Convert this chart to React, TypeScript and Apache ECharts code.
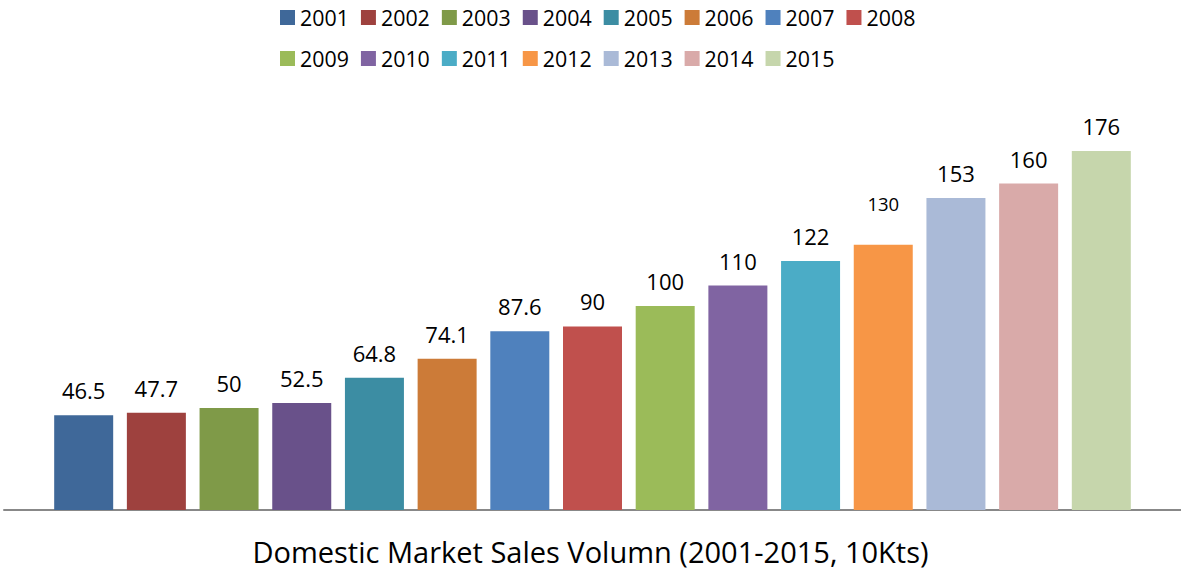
import React, { useEffect, useRef } from "react";
import * as echarts from "echarts";

const years = ["2001", "2002", "2003", "2004", "2005", "2006", "2007", "2008", "2009", "2010", "2011", "2012", "2013", "2014", "2015"];
const values = [46.5, 47.7, 50, 52.5, 64.8, 74.1, 87.6, 90, 100, 110, 122, 130, 153, 160, 176];
const colors = [
  "#3F6899", "#9E413E", "#7F9A48", "#69518A", "#3C8DA3", "#CC7B38",
  "#4F81BD", "#C0504D", "#9BBB59", "#8064A2", "#4BACC6", "#F79646",
  "#AABAD7", "#D9AAA9", "#C6D6AC",
];
const titleText = "Domestic Market Sales Volumn (2001-2015, 10Kts)";
const FONT = "'Open Sans', sans-serif";

export default function App() {
  const ref = useRef<HTMLDivElement>(null);
  useEffect(() => {
    document.body.style.margin = "0";
    const chart = echarts.init(ref.current!, null, { renderer: "svg" });
    const series = years.map((y, i) => ({
      name: y,
      type: "bar",
      data: [values[i]],
      barWidth: 59,
      barGap: "23.2%",
      itemStyle: { color: colors[i] },
      label: {
        show: true,
        position: "top",
        distance: 14,
        offset: y === "2012" ? [0, -18] : [0, 0],
        color: "#000",
        fontFamily: FONT,
        fontSize: y === "2012" ? 18.5 : 22,
      },
    }));
    const legendCommon = {
      left: 280,
      padding: 0,
      icon: "rect",
      itemWidth: 15,
      itemHeight: 15,
      itemGap: 12,
      selectedMode: false,
      textStyle: { fontFamily: FONT, fontSize: 21.4, color: "#000" },
    };
    chart.setOption({
      animation: false,
      title: {
        text: titleText,
        left: "center",
        bottom: -1,
        textStyle: { fontFamily: FONT, fontSize: 29, fontWeight: "normal", color: "#000" },
      },
      legend: [
        { ...legendCommon, top: 7, data: years.slice(0, 8) },
        { ...legendCommon, top: 48, data: years.slice(8) },
      ],
      grid: { left: 4, right: 0, top: 102, bottom: 60 },
      xAxis: {
        type: "category",
        data: [""],
        axisLine: { lineStyle: { color: "#888", width: 2 } },
        axisTick: { show: false },
        axisLabel: { show: false },
      },
      yAxis: {
        type: "value",
        min: 0,
        max: 200,
        show: false,
        splitLine: { show: false },
      },
      series,
    });
    return () => chart.dispose();
  }, []);
  return <div ref={ref} style={{ position: "absolute", left: 0, top: 0, width: 1181, height: 570 }} />;
}
